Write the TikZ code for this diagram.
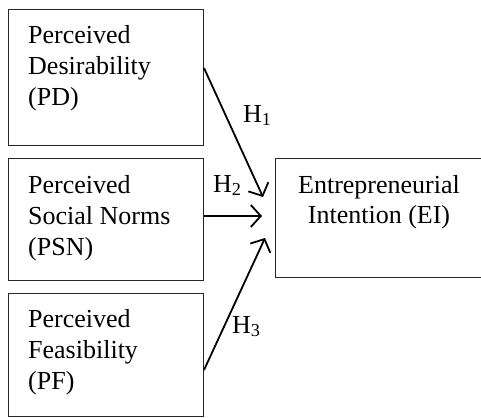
\documentclass[tikz,border=0pt]{standalone}
\usepackage{fontspec}
\setmainfont{Liberation Serif}
\usetikzlibrary{arrows.meta}
\begin{document}
\begin{tikzpicture}[x=1pt,y=-1pt,
  box/.style={draw=black!85, line width=1pt, inner sep=0pt, anchor=north west},
  txt/.style={inner sep=0pt, align=left, anchor=base west, font=\fontsize{26}{31}\selectfont},
  ctxt/.style={inner sep=0pt, align=center, anchor=base, font=\fontsize{26}{30}\selectfont},
  hyp/.style={inner sep=0pt, anchor=base west, font=\fontsize{26}{31}\selectfont},
  conn/.style={draw=black, line width=1.8pt, -{Straight Barb[length=10pt,width=22pt,line width=1.8pt]}}]
\useasboundingbox (0,0) rectangle (481,417);
% boxes
\node[box, minimum width=195, minimum height=136] (pd) at (8,9) {};
\node[box, minimum width=195, minimum height=122] (psn) at (8,158) {};
\node[box, minimum width=195, minimum height=123] (pf) at (8,293) {};
\node[box, minimum width=205.5, minimum height=119] (ei) at (275,158) {};
% texts (base anchor = last line baseline)
\node[txt] (pdt) at (28,106) {Perceived\\Desirability\\(PD)};
\node[txt] (psnt) at (28,255) {Perceived\\Social Norms\\(PSN)};
\node[txt] (pft) at (28,389) {Perceived\\Feasibility\\(PF)};
\node[ctxt] (eit) at (379,223) {Entrepreneurial\\Intention (EI)};
% arrow ends
\coordinate (e1) at (263,197);
\coordinate (e2) at (262,216);
\coordinate (e3) at (265,238);
\draw[conn] (pd.east |- 0,68) -- (e1);
\draw[conn] (psn.east |- 0,216) -- (e2);
\draw[conn] (pf.east |- 0,370) -- (e3);
% hypothesis labels
\node[hyp] (h1) at (243,122) {H\textsubscript{1}};
\node[hyp] (h2) at (213,192) {H\textsubscript{2}};
\node[hyp] (h3) at (232,333) {H\textsubscript{3}};
\end{tikzpicture}
\end{document}
